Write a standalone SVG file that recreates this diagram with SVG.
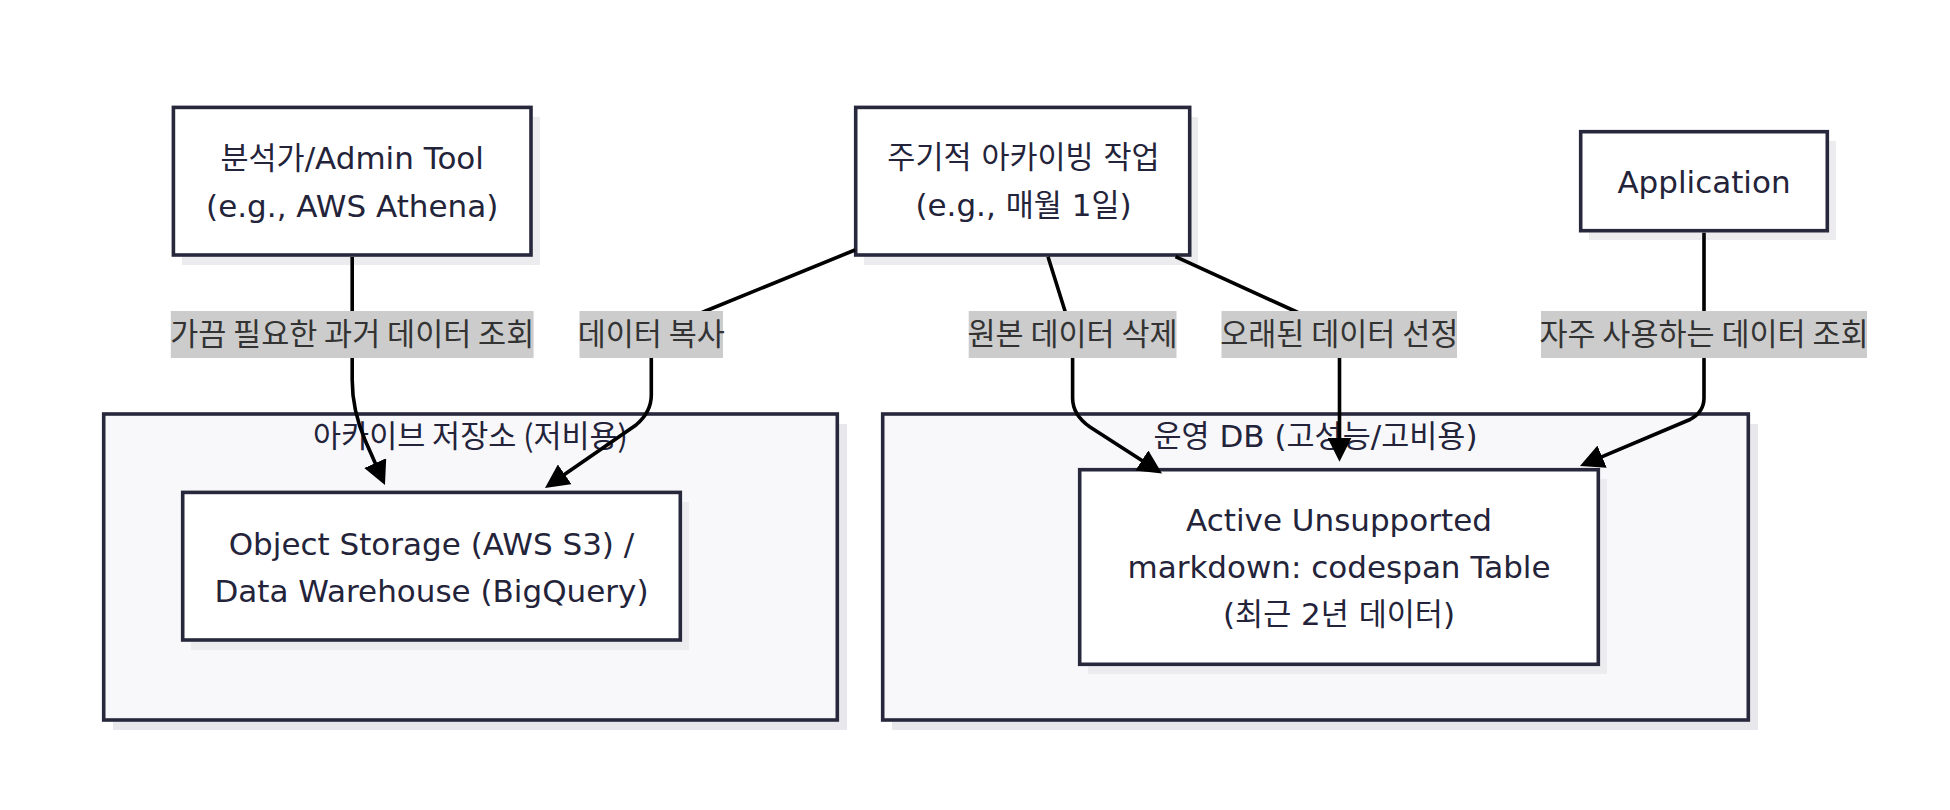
<svg xmlns="http://www.w3.org/2000/svg" width="1950" height="810" viewBox="0 0 1950 810">
<style>
.t{font-family:"DejaVu Sans","Noto Sans CJK KR",sans-serif;font-size:31px;fill:#23233a;text-anchor:middle}
.k{font-family:"Noto Sans CJK KR",sans-serif;font-size:30.5px}
.ck{font-family:"Noto Sans CJK KR",sans-serif;font-size:30.5px;fill:#23233a;text-anchor:middle}
.lt{font-family:"Noto Sans CJK KR",sans-serif;font-size:30.5px;fill:#333333;text-anchor:middle}
.node{fill:#ffffff;stroke:#28283d;stroke-width:3.6}
.clu{fill:#f8f8fa;stroke:#28283d;stroke-width:3.6}
.sh{fill:#ececef}
.csh{fill:#e8e8ec}
.lb{fill:#cccccc}
.e{fill:none;stroke:#000000;stroke-width:3.6;marker-end:url(#ah)}
</style>
<defs>
<marker id="ah" markerUnits="userSpaceOnUse" markerWidth="24" markerHeight="24" refX="14" refY="12" orient="auto">
<path d="M0,0 L24,12 L0,24 z" fill="#000000"/>
</marker>
</defs>
<rect width="1950" height="810" fill="#ffffff"/>

<g id="cluster-archive">
<rect class="csh" x="113" y="424" width="734" height="306"/>
<rect class="clu" x="103.7" y="414" width="733.6" height="306"/>
<text class="ck" x="470.5" y="447">아카이브 저장소 (저비용)</text>
</g>

<g id="cluster-opsdb">
<rect class="csh" x="892" y="424" width="866" height="306"/>
<rect class="clu" x="882.7" y="414" width="865.6" height="306"/>
<text class="t" x="1315.5" y="447"><tspan class="k">운영</tspan> DB (<tspan class="k">고성능</tspan>/<tspan class="k">고비용</tspan>)</text>
</g>

<g id="node-analyst">
<rect class="sh" x="182" y="117" width="358" height="148"/>
<rect class="node" x="173.4" y="107.4" width="357.6" height="147.6"/>
<text class="t" x="352.2" y="169"><tspan class="k">분석가</tspan>/Admin Tool</text>
<text class="t" x="352.2" y="217">(e.g., AWS Athena)</text>
</g>

<g id="node-job">
<rect class="sh" x="864" y="117" width="334" height="148"/>
<rect class="node" x="855.7" y="107.4" width="334" height="147.6"/>
<text class="t" x="1023.5" y="168"><tspan class="k">주기적</tspan> <tspan class="k">아카이빙</tspan> <tspan class="k">작업</tspan></text>
<text class="t" x="1023.5" y="216">(e.g., <tspan class="k">매월</tspan> 1<tspan class="k">일</tspan>)</text>
</g>

<g id="node-app">
<rect class="sh" x="1589" y="141" width="247" height="99"/>
<rect class="node" x="1580.7" y="131.7" width="246.6" height="99"/>
<text class="t" x="1704" y="192.5">Application</text>
</g>

<g id="node-storage">
<rect class="sh" x="191" y="502" width="498" height="148"/>
<rect class="node" x="182.7" y="492.4" width="497.6" height="147.6"/>
<text class="t" x="431.5" y="555">Object Storage (AWS S3) /</text>
<text class="t" x="431.5" y="602">Data Warehouse (BigQuery)</text>
</g>

<g id="node-active">
<rect class="sh" x="1088" y="479" width="519" height="195"/>
<rect class="node" x="1079.7" y="469.7" width="518.6" height="194.6"/>
<text class="t" x="1339" y="531">Active Unsupported</text>
<text class="t" x="1339" y="578">markdown: codespan Table</text>
<text class="t" x="1339" y="625">(<tspan class="k">최근</tspan> 2<tspan class="k">년</tspan> <tspan class="k">데이터</tspan>)</text>
</g>

<g id="connectors">
<path class="e" d="M352.2,257 L352.2,380 Q352.2,410 365,440 L380.9,475.9"/>
<path class="e" d="M855,250 L705.6,311 Q651.3,333 651.3,358 L651.3,395 Q651.3,412 636,425 L553.2,482.3"/>
<path class="e" d="M1048,256.7 L1065,311 Q1072.6,335 1072.6,358 L1072.6,398 Q1072.6,415 1090,427 L1153.6,468.1"/>
<path class="e" d="M1175.5,256.7 L1294.7,311 Q1339.5,331 1339.5,358 L1339.5,451.7"/>
<path class="e" d="M1704,232.7 L1704,398 Q1704,412 1690,419.5 L1589.2,462.1"/>
</g>

<g id="edge-labels">
<g id="label-query-old">
<rect class="lb" x="170.8" y="311" width="362.8" height="47"/>
<text class="lt" x="352.2" y="345">가끔 필요한 과거 데이터 조회</text>
</g>
<g id="label-copy">
<rect class="lb" x="579.5" y="311" width="143.5" height="47"/>
<text class="lt" x="651.3" y="345">데이터 복사</text>
</g>
<g id="label-delete">
<rect class="lb" x="968.7" y="311" width="207.8" height="47"/>
<text class="lt" x="1072.6" y="345">원본 데이터 삭제</text>
</g>
<g id="label-select">
<rect class="lb" x="1221.5" y="311" width="235.5" height="47"/>
<text class="lt" x="1339.3" y="345">오래된 데이터 선정</text>
</g>
<g id="label-query-hot">
<rect class="lb" x="1541" y="311" width="326" height="47"/>
<text class="lt" x="1704" y="345">자주 사용하는 데이터 조회</text>
</g>
</g>
</svg>
